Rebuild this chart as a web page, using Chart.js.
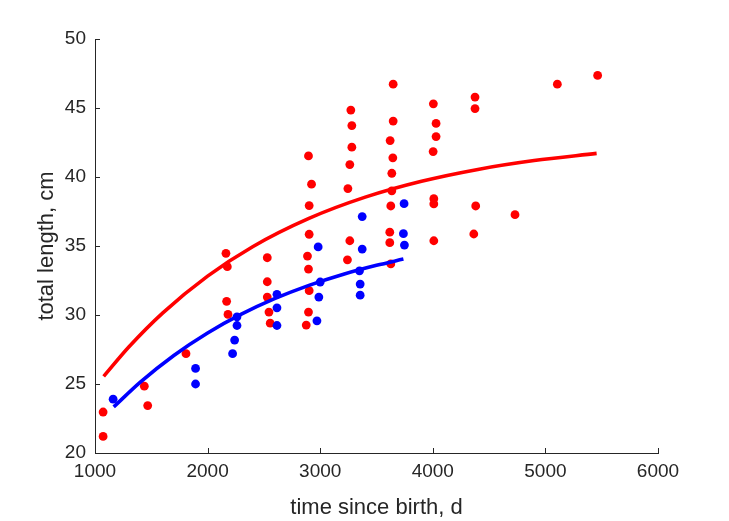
<!DOCTYPE html>
<html>
<head>
<meta charset="utf-8">
<script src="https://cdn.jsdelivr.net/npm/chart.js@4.4.1/dist/chart.umd.min.js"></script>
<style>
  html, body { margin: 0; padding: 0; background: #fff; }
  #growth { display: block; }
</style>
</head>
<body>
<canvas id="growth" width="729" height="521"></canvas>
<script>
// observed lengths (red group)
const redDays = [1072, 1072, 1438, 1468, 1808, 2163, 2175, 2169, 2181, 2530, 2530, 2530, 2545, 2556,
  2896, 2923, 2902, 2902, 2887, 2896, 2902, 2896, 2876, 3272, 3281, 3281, 3263, 3246, 3263, 3242,
  3648, 3648, 3621, 3645, 3636, 3636, 3627, 3618, 3618, 3627, 4005, 4029, 4029, 4003, 4009, 4009, 4009,
  4375, 4375, 4381, 4364, 4730, 5106, 5464];
const redLen = [22.97, 21.2, 24.84, 23.44, 27.2, 34.47, 33.5, 30.99, 30.04, 34.15, 32.41, 31.3, 30.21, 29.41,
  41.53, 39.48, 37.93, 35.85, 34.27, 33.33, 31.76, 30.21, 29.27, 44.85, 43.73, 42.16, 40.9, 39.16, 35.38, 34.0,
  46.73, 44.05, 42.64, 41.39, 40.27, 39.0, 37.9, 36.0, 35.24, 33.7, 45.3, 43.88, 42.93, 41.84, 38.43, 38.05, 35.38,
  45.79, 44.96, 37.9, 35.87, 37.27, 46.73, 47.36];

// observed lengths (blue group)
const blueDays = [1161, 1893, 1893, 2240, 2222, 2261, 2261, 2616, 2616, 2616, 2982, 3000, 2988, 2971,
  3373, 3373, 3349, 3355, 3355, 3745, 3739, 3748];
const blueLen = [23.9, 26.13, 25.0, 28.18, 27.2, 29.87, 29.24, 31.5, 30.52, 29.24, 34.93, 32.39, 31.3, 29.58,
  37.13, 34.78, 33.2, 32.24, 31.44, 38.07, 35.89, 35.07];

// fitted curves
const redFitDays = [1077, 1300, 1600, 2000, 2400, 2900, 3400, 3900, 4400, 4900, 5455];
const redFitLen = [25.55, 27.68, 30.14, 32.82, 34.95, 37.0, 38.54, 39.69, 40.55, 41.19, 41.71];
const blueFitDays = [1166, 1400, 1700, 2000, 2300, 2600, 2900, 3200, 3500, 3739];
const blueFitLen = [23.34, 25.12, 27.07, 28.7, 30.06, 31.2, 32.15, 32.94, 33.6, 34.05];

const xTicks = [1000, 2000, 3000, 4000, 5000, 6000];
const yTicks = [20, 25, 30, 35, 40, 45, 50];

const ink = '#262626';
const font = 'Liberation Sans, Arial, Helvetica, sans-serif';

const pts = (xs, ys) => xs.map((x, i) => ({ x, y: ys[i] }));

// matlab style: tick marks pointing into the plot
const innerTicks = {
  id: 'innerTicks',
  afterDraw(chart) {
    const { ctx, chartArea, scales } = chart;
    ctx.save();
    ctx.strokeStyle = ink;
    ctx.lineWidth = 1;
    ctx.beginPath();
    xTicks.forEach(v => {
      const px = Math.round(scales.x.getPixelForValue(v)) + 0.5;
      ctx.moveTo(px, chartArea.bottom);
      ctx.lineTo(px, chartArea.bottom - 5);
    });
    yTicks.forEach(v => {
      const py = Math.round(scales.y.getPixelForValue(v)) + 0.5;
      ctx.moveTo(chartArea.left, py);
      ctx.lineTo(chartArea.left + 5, py);
    });
    ctx.stroke();
    ctx.restore();
  }
};

new Chart(document.getElementById('growth'), {
  type: 'scatter',
  data: {
    datasets: [
      {
        data: pts(redFitDays, redFitLen),
        showLine: true,
        borderColor: '#ff0000',
        borderWidth: 3.6,
        pointRadius: 0,
        cubicInterpolationMode: 'monotone',
        order: 0
      },
      {
        data: pts(blueFitDays, blueFitLen),
        showLine: true,
        borderColor: '#0000ff',
        borderWidth: 3.6,
        pointRadius: 0,
        cubicInterpolationMode: 'monotone',
        order: 0
      },
      {
        data: pts(blueDays, blueLen),
        backgroundColor: '#0000ff',
        borderWidth: 0,
        pointRadius: 4.4,
        order: 1
      },
      {
        data: pts(redDays, redLen),
        backgroundColor: '#ff0000',
        borderWidth: 0,
        pointRadius: 4.4,
        order: 2
      }
    ]
  },
  options: {
    responsive: false,
    animation: false,
    events: [],
    layout: { padding: { top: 39, right: 71, left: 0, bottom: 0 } },
    plugins: { legend: { display: false }, tooltip: { enabled: false } },
    scales: {
      x: {
        type: 'linear',
        min: 1000,
        max: 6000,
        afterBuildTicks: s => { s.ticks = xTicks.map(v => ({ value: v })); },
        afterFit: s => { s.height = 68; },
        grid: { display: false, drawTicks: false },
        border: { display: true, color: ink, width: 1 },
        ticks: { color: ink, font: { family: font, size: 19 }, padding: 7, maxRotation: 0, callback: v => String(v) },
        title: { display: true, text: 'time since birth, d', color: ink, font: { family: font, size: 22 }, padding: { top: 0, bottom: 0 } }
      },
      y: {
        type: 'linear',
        min: 20,
        max: 50,
        afterBuildTicks: s => { s.ticks = yTicks.map(v => ({ value: v })); },
        afterFit: s => { s.width = 95; },
        grid: { display: false, drawTicks: false },
        border: { display: true, color: ink, width: 1 },
        ticks: { color: ink, font: { family: font, size: 19 }, padding: 9, callback: v => String(v) },
        title: { display: true, text: 'total length, cm', color: ink, font: { family: font, size: 22 }, padding: { top: 34, bottom: 0 } }
      }
    }
  },
  plugins: [innerTicks]
});
</script>
</body>
</html>
